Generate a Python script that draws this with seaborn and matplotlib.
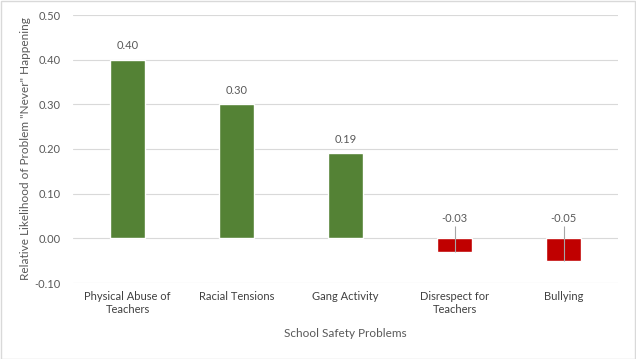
import matplotlib
matplotlib.use("Agg")
import matplotlib.pyplot as plt
import pandas as pd
import seaborn as sns
from matplotlib.patches import Rectangle

categories = ["Physical Abuse of\nTeachers", "Racial Tensions", "Gang Activity",
              "Disrespect for\nTeachers", "Bullying"]
values = [0.40, 0.30, 0.19, -0.03, -0.05]
labels = ["0.40", "0.30", "0.19", "-0.03", "-0.05"]
yticks = [-0.10, 0.00, 0.10, 0.20, 0.30, 0.40, 0.50]

GREEN = "#548235"
RED = "#C00000"
TEXT = "#595959"
GRID = "#D9D9D9"

sns.set_theme(style="white")
plt.rcParams["font.family"] = ["Lato", "DejaVu Sans"]

df = pd.DataFrame({"problem": categories, "value": values})
df["sign"] = ["pos" if v >= 0 else "neg" for v in values]

fig = plt.figure(figsize=(6.36, 3.59), dpi=100)
ax = fig.add_axes([73 / 636, 1 - 283 / 359, 545 / 636, 268 / 359])

sns.barplot(data=df, x="problem", y="value", hue="sign",
            palette={"pos": GREEN, "neg": RED}, width=0.32, saturation=1,
            dodge=False, legend=False, ax=ax, zorder=3)

ax.set_xlim(-0.5, 4.5)
ax.set_ylim(-0.10, 0.50)
ax.set_yticks(yticks)
ax.set_yticklabels([f"{t:.2f}" for t in yticks])
ax.grid(axis="y", color=GRID, linewidth=0.8, zorder=0)
ax.set_axisbelow(True)
for s in ax.spines.values():
    s.set_visible(False)
ax.tick_params(axis="both", length=0, labelsize=8, colors=TEXT, pad=6)
ax.tick_params(axis="x", labelcolor="#404040")
ax.tick_params(axis="y", pad=9)

ax.set_xlabel("School Safety Problems", fontsize=8.5, color=TEXT, labelpad=9)
ax.set_ylabel('Relative Likelihood of Problem "Never" Happening', fontsize=8.5,
              color=TEXT, labelpad=2)

for i, (v, lab) in enumerate(zip(values, labels)):
    if v >= 0:
        ax.annotate(lab, (i, v), xytext=(0, 6), textcoords="offset points",
                    ha="center", va="bottom", fontsize=8, color=TEXT)
    else:
        ax.text(i, 0.044, lab, ha="center", va="center", fontsize=8, color=TEXT)
        ax.vlines(i, v, 0.027, color="#A6A6A6", linewidth=0.8, zorder=4)

fig.add_artist(Rectangle((0.001, 0.001), 0.997, 0.996, transform=fig.transFigure,
                         fill=False, edgecolor="#D9D9D9", linewidth=1))

fig.savefig("out.png", dpi=100)
